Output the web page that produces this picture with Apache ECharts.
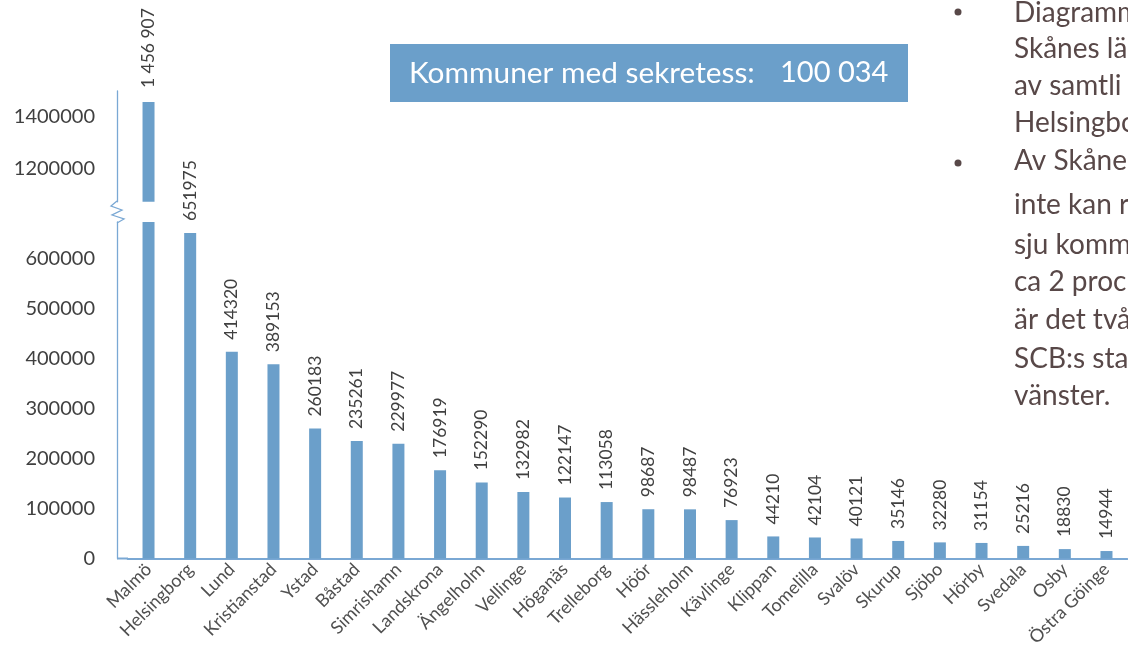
<!DOCTYPE html>
<html>
<head>
<meta charset="utf-8">
<script src="https://cdn.jsdelivr.net/npm/echarts@6/dist/echarts.min.js"></script>
<style>
  html, body { margin: 0; padding: 0; background: #fff; }
  #chart { width: 1128px; height: 651px; }
</style>
</head>
<body>
<div id="chart"></div>
<script>
  // kommuner och antal
  var kommuner = ['Malmö', 'Helsingborg', 'Lund', 'Kristianstad', 'Ystad', 'Båstad', 'Simrishamn', 'Landskrona',
    'Ängelholm', 'Vellinge', 'Höganäs', 'Trelleborg', 'Höör', 'Hässleholm', 'Kävlinge', 'Klippan', 'Tomelilla',
    'Svalöv', 'Skurup', 'Sjöbo', 'Hörby', 'Svedala', 'Osby', 'Östra Göinge'];
  var antal = [1456907, 651975, 414320, 389153, 260183, 235261, 229977, 176919, 152290, 132982, 122147, 113058,
    98687, 98487, 76923, 44210, 42104, 40121, 35146, 32280, 31154, 25216, 18830, 14944];

  // axelbrytning
  var lowTicks = [0, 100000, 200000, 300000, 400000, 500000, 600000];
  var highTicks = [1200000, 1400000];
  var lowMax = 674000;
  var highMin = 1070000;
  var highMax = 1500000;

  var boxLabel = 'Kommuner med sekretess:';
  var boxValue = '100 034';
  var textLines = ['Diagramm', 'Skånes lä', 'av samtli', 'Helsingbo', 'Av Skåne', 'inte kan r',
    'sju komm', 'ca 2 proc', 'är det två', 'SCB:s sta', 'vänster.'];
  var bulletLines = [0, 4];

  var barColor = '#6b9fca';
  var axisColor = '#7aa8d4';
  var textColor = '#404040';
  var slideText = '#584848';

  function spaced(v) {
    return String(v).replace(/\B(?=(\d{3})+(?!\d))/g, ' ');
  }

  var chart = echarts.init(document.getElementById('chart'));

  // punkttext till höger (baslinjer)
  var baseY = [21, 57, 94, 131, 169, 213, 253, 290, 328, 367, 404];
  var bulletY = [12, 163];
  var graphics = [];
  textLines.forEach(function (t, i) {
    graphics.push({
      type: 'text', left: 1014, top: baseY[i] - 22.5,
      style: { text: t, fill: slideText, font: '28px Lato' }
    });
  });
  bulletLines.forEach(function (i, k) {
    graphics.push({
      type: 'circle', shape: { cx: 958, cy: bulletY[k], r: 3.5 },
      style: { fill: slideText }
    });
  });
  // rutan
  graphics.push({ type: 'rect', shape: { x: 390, y: 44, width: 518, height: 58 }, style: { fill: barColor } });
  graphics.push({ type: 'text', x: 409, y: 73, style: { text: boxLabel, fill: '#fff', font: '29.8px Lato', verticalAlign: 'middle' } });
  graphics.push({ type: 'text', x: 780, y: 73, style: { text: boxValue, fill: '#fff', font: '29px Lato', verticalAlign: 'middle' } });
  // brytsymbol
  graphics.push({
    type: 'polyline',
    shape: { points: [[117, 201], [111, 206], [122, 210], [112, 215], [124, 219], [117, 223]] },
    style: { stroke: axisColor, lineWidth: 1.3, fill: null }
  });
  graphics.push({ type: 'line', shape: { x1: 117, y1: 558.5, x2: 128, y2: 558.5 }, style: { stroke: axisColor, lineWidth: 2 } });

  var option = {
    animation: false,
    graphic: graphics,
    grid: [
      { left: 127.7, right: 0.7, top: 91, height: 110.8 },
      { left: 127.7, right: 0.7, top: 222, bottom: 92.5 }
    ],
    xAxis: [
      { type: 'category', gridIndex: 0, data: kommuner, show: false },
      {
        type: 'category', gridIndex: 1, data: kommuner,
        axisLine: { lineStyle: { color: axisColor, width: 2 } },
        axisTick: { show: false },
        axisLabel: { interval: 0, rotate: 45, margin: 8, color: '#505050', fontFamily: 'Lato', fontSize: 18 }
      }
    ],
    yAxis: [
      {
        type: 'value', gridIndex: 0, min: highMin, max: highMax, offset: 10.7,
        axisLine: { show: true, lineStyle: { color: axisColor, width: 1.3 } },
        axisTick: { show: false },
        splitLine: { show: false },
        axisLabel: {
          customValues: highTicks, margin: 22, color: textColor, fontFamily: 'Lato', fontSize: 20,
          formatter: function (v) { return String(v); }
        }
      },
      {
        type: 'value', gridIndex: 1, min: 0, max: lowMax, offset: 10.7,
        axisLine: { show: true, lineStyle: { color: axisColor, width: 1.3 } },
        axisTick: { show: false },
        splitLine: { show: false },
        axisLabel: {
          customValues: lowTicks, margin: 22, color: textColor, fontFamily: 'Lato', fontSize: 20,
          formatter: function (v) { return String(v); }
        }
      }
    ],
    series: [
      {
        type: 'bar', xAxisIndex: 0, yAxisIndex: 0, barWidth: 12,
        data: antal.map(function (v) { return v > lowMax ? v : '-'; }),
        itemStyle: { color: barColor },
        label: {
          show: true, position: 'top', rotate: 90, align: 'left', verticalAlign: 'middle', distance: 14,
          color: textColor, fontFamily: 'Lato', fontSize: 17.5,
          formatter: function (p) { return spaced(p.value); }
        }
      },
      {
        type: 'bar', xAxisIndex: 1, yAxisIndex: 1, barWidth: 12,
        data: antal,
        itemStyle: { color: barColor },
        label: {
          show: true, position: 'top', rotate: 90, align: 'left', verticalAlign: 'middle', distance: 12,
          color: textColor, fontFamily: 'Lato', fontSize: 17.5,
          formatter: function (p) { return p.value > lowMax ? '' : String(p.value); }
        }
      }
    ]
  };
  chart.setOption(option);
</script>
</body>
</html>
